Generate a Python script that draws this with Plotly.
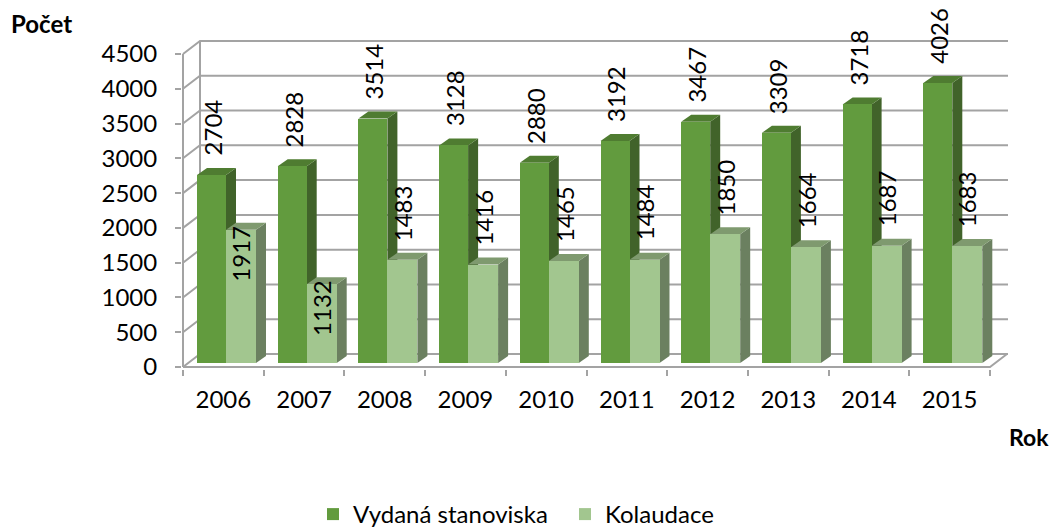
import plotly.graph_objects as go

# ---------------- data ----------------
years = ["2006", "2007", "2008", "2009", "2010", "2011", "2012", "2013", "2014", "2015"]
vydana = [2704, 2828, 3514, 3128, 2880, 3192, 3467, 3309, 3718, 4026]
kolaudace = [1917, 1132, 1483, 1416, 1465, 1484, 1850, 1664, 1687, 1683]
y_ticks = [0, 500, 1000, 1500, 2000, 2500, 3000, 3500, 4000, 4500]
series_names = ["Vydaná stanoviska", "Kolaudace"]
kol_label_place = ["inside", "inside"] + ["outside"] * 8

# ---------------- geometry (window pixels -> axis units) ----------------
WIN_W, WIN_H = 1058, 527
PAGE_OFF = 8                               # default body margin of the html page
W, H = WIN_W - PAGE_OFF, WIN_H - PAGE_OFF  # figure size so it fits the window
L, R, T, B = 182, 1012, 38, 369            # plot area in window px
X0PX, Y0PX = 183, 367                      # front-left floor corner
PXU = 80.7                                 # px per category
PXV = 313 / 4500                           # px per value unit


def ux(px):
    return -0.5 + (px - X0PX) / PXU


def vy(px):
    return (Y0PX - px) / PXV


def du(px):
    return px / PXU


def dv(px):
    return px / PXV


def pxx(px):
    return (px - L) / (R - L)


def pxy(py):
    return (B - py) / (B - T)


FONT = "Lato"
FS = 24
n = len(years)
idx = list(range(n))

G_FRONT, G_SIDE, G_TOP = "#629b3e", "#41632a", "#4f7c31"
K_FRONT, K_SIDE, K_TOP = "#a2c68f", "#6b8060", "#7f9a6f"
GRID = "#a3a3a3"

base = dv(4)
g_left, g_w = 14, 29
k_left, k_w = 43, 30
depth_x, depth_y = 10, 7
wall_x, wall_y = 17, 13

g_x = [i - 0.5 + du(g_left + g_w / 2) for i in idx]
k_x = [i - 0.5 + du(k_left + k_w / 2) for i in idx]

shapes = []


def path(pts):
    return "M" + " L".join(f"{a:.5f},{b:.3f}" for a, b in pts) + " Z"


# back wall gridlines with left side diagonals
for v in y_ticks:
    shapes.append(dict(type="path", xref="x", yref="y", layer="below",
                       path=f"M{-0.5:.5f},{v:.3f} L{-0.5 + du(wall_x):.5f},{v + dv(wall_y):.3f} "
                            f"L{ux(1008):.5f},{v + dv(wall_y):.3f}",
                       line=dict(color=GRID, width=2)))
# back left vertical edge
shapes.append(dict(type="line", xref="x", yref="y", layer="below",
                   x0=-0.5 + du(wall_x), x1=-0.5 + du(wall_x),
                   y0=dv(wall_y), y1=y_ticks[-1] + dv(wall_y),
                   line=dict(color=GRID, width=2)))
# floor front + right edge
shapes.append(dict(type="path", xref="x", yref="y", layer="below",
                   path=f"M-0.5,0 L{n - 0.5:.5f},0 L{n - 0.5 + du(wall_x):.5f},{dv(wall_y):.3f}",
                   line=dict(color=GRID, width=2)))
# front vertical axis line
shapes.append(dict(type="line", xref="x", yref="y", layer="below",
                   x0=-0.5, x1=-0.5, y0=0, y1=y_ticks[-1],
                   line=dict(color=GRID, width=2)))


def faces(xc, w, v, side_col, top_col):
    xl, xr = xc - w / 2, xc + w / 2
    b, t = base, base + v
    ddx, ddy = du(depth_x), dv(depth_y)
    side = path([(xr, b), (xr + ddx, b + ddy), (xr + ddx, t + ddy), (xr, t)])
    top = path([(xl, t), (xl + ddx, t + ddy), (xr + ddx, t + ddy), (xr, t)])
    return [dict(type="path", xref="x", yref="y", layer="below", path=side,
                 fillcolor=side_col, line=dict(width=0)),
            dict(type="path", xref="x", yref="y", layer="below", path=top,
                 fillcolor=top_col, line=dict(width=0))]


for i in idx:
    shapes += faces(g_x[i], du(g_w), vydana[i], G_SIDE, G_TOP)
    shapes += faces(k_x[i], du(k_w), kolaudace[i], K_SIDE, K_TOP)

fig = go.Figure()
fig.add_trace(go.Bar(x=g_x, y=vydana, base=base, width=du(g_w), name=series_names[0],
                     marker=dict(color=G_FRONT, line=dict(width=0)),
                     customdata=years, hovertemplate="%{customdata}: %{y}<extra></extra>"))
fig.add_trace(go.Bar(x=k_x, y=kolaudace, base=base, width=du(k_w), name=series_names[1],
                     marker=dict(color=K_FRONT, line=dict(width=0)),
                     customdata=years, hovertemplate="%{customdata}: %{y}<extra></extra>"))

annotations = []
for i in idx:
    annotations.append(dict(x=g_x[i] + du(1), y=base + vydana[i] + dv(17), xref="x", yref="y",
                            text=str(vydana[i]), showarrow=False, textangle=-90,
                            xanchor="center", yanchor="bottom",
                            font=dict(family=FONT, size=FS, color="black")))
    if kol_label_place[i] == "outside":
        annotations.append(dict(x=k_x[i], y=base + kolaudace[i] + dv(17), xref="x", yref="y",
                                text=str(kolaudace[i]), showarrow=False, textangle=-90,
                                xanchor="center", yanchor="bottom",
                                font=dict(family=FONT, size=FS, color="black")))
    else:
        annotations.append(dict(x=k_x[i], y=base + kolaudace[i] + dv(6), xref="x", yref="y",
                                text=str(kolaudace[i]), showarrow=False, textangle=-90,
                                xanchor="center", yanchor="top",
                                font=dict(family=FONT, size=FS, color="black")))

annotations.append(dict(text="<b>Počet</b>", xref="paper", yref="paper",
                        x=pxx(41), y=pxy(24), xanchor="center", yanchor="middle", showarrow=False,
                        font=dict(family=FONT, size=FS, color="black")))
annotations.append(dict(text="<b>Rok</b>", xref="paper", yref="paper",
                        x=pxx(1029), y=pxy(437), xanchor="center", yanchor="middle", showarrow=False,
                        font=dict(family=FONT, size=23, color="black")))

fig.update_layout(
    width=W, height=H,
    margin=dict(l=L - PAGE_OFF, r=WIN_W - R, t=T - PAGE_OFF, b=WIN_H - B, pad=0,
                autoexpand=False),
    paper_bgcolor="white", plot_bgcolor="white",
    barmode="overlay", bargap=0,
    shapes=shapes, annotations=annotations,
    font=dict(family=FONT, size=FS, color="black"),
    showlegend=True,
    legend=dict(orientation="h", x=pxx(313), y=pxy(492), xanchor="left", yanchor="top",
                font=dict(family=FONT, size=FS, color="black"), entrywidth=207,
                entrywidthmode="pixels", itemclick=False, itemdoubleclick=False),
    xaxis=dict(range=[ux(L), ux(R)], tickmode="array", tickvals=idx, ticktext=years,
               ticks="", showgrid=False, zeroline=False, showline=False,
               ticklabelstandoff=14, automargin=False,
               minor=dict(tick0=0.5, dtick=1, ticks="outside", ticklen=6, tickcolor=GRID,
                          tickwidth=2, showgrid=False),
               tickfont=dict(family=FONT, size=FS, color="black"), fixedrange=True),
    yaxis=dict(range=[vy(B), vy(T)], tickmode="array", tickvals=y_ticks,
               ticks="outside", ticklen=6, tickcolor=GRID, tickwidth=2, automargin=False,
               showgrid=False, zeroline=False, showline=False, ticklabelstandoff=13,
               tickfont=dict(family=FONT, size=FS, color="black"), fixedrange=True),
)

fig.write_html("out.html")
